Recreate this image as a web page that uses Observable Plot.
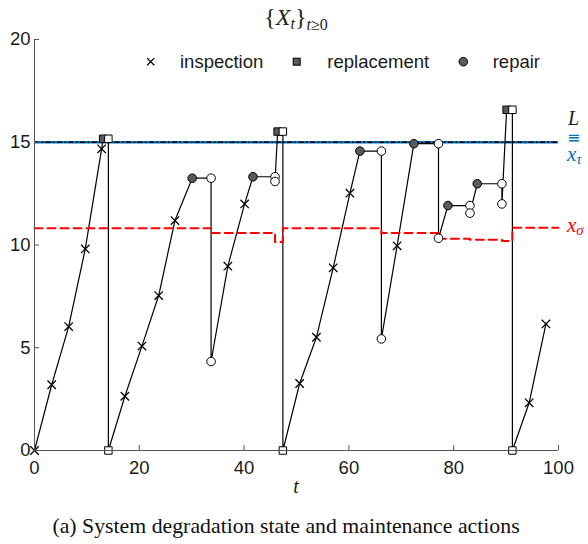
<!DOCTYPE html>
<html>
<head>
<meta charset="utf-8">
<script src="https://cdn.jsdelivr.net/npm/d3@7"></script>
<script src="https://cdn.jsdelivr.net/npm/@observablehq/plot@0.6"></script>
<style>
  body { margin: 0; background: #fff; }
  #wrap { position: relative; width: 588px; height: 544px; background: #fff; }
  #caption {
    position: absolute; left: 0; width: 572px; top: 516px;
    text-align: center; font-family: "Liberation Serif", "Times New Roman", serif;
    font-size: 21.8px; line-height: 20px; color: #111; white-space: nowrap;
  }
</style>
</head>
<body>
<div id="wrap">
  <div id="chart"></div>
  <div id="caption">(a) System degradation state and maintenance actions</div>
</div>
<script>
// Degradation trajectory: time, state, and what happened at that point
const pathT = [0, 3.28, 6.52, 9.69, 12.81, 13.1, 14.1, 14.1,
  17.25, 20.5, 23.7, 26.8, 30.1, 33.7, 33.7,
  36.9, 40.1, 41.7, 45.9, 45.9, 46.4, 47.4, 47.4,
  50.6, 53.8, 57.0, 60.2, 62.1, 66.2, 66.2,
  69.2, 72.4, 77.1, 77.1, 78.9, 83.1, 83.1, 84.5, 89.2, 89.2, 90.1, 91.2, 91.2,
  94.4, 97.6];
const pathX = [0, 3.20, 6.03, 9.81, 14.68, 15.17, 15.17, 0,
  2.64, 5.08, 7.54, 11.19, 13.25, 13.25, 4.33,
  8.97, 12.0, 13.32, 13.32, 13.09, 15.52, 15.52, 0,
  3.26, 5.51, 8.89, 12.52, 14.57, 14.57, 5.43,
  9.96, 14.93, 14.93, 10.33, 11.92, 11.92, 11.55, 12.98, 12.98, 12.0, 16.58, 16.58, 0,
  2.32, 6.16];
const pathKind = ["inspection", "inspection", "inspection", "inspection", "inspection", "replacement", "replaced", "replaced",
  "inspection", "inspection", "inspection", "inspection", "repair", "repaired", "repaired",
  "inspection", "inspection", "repair", "repaired", "repaired", "replacement", "replaced", "replaced",
  "inspection", "inspection", "inspection", "inspection", "repair", "repaired", "repaired",
  "inspection", "repair", "repaired", "repaired", "repair", "repaired", "repaired", "repair", "repaired", "repaired", "replacement", "replaced", "replaced",
  "inspection", "inspection"];

// Repair threshold x_sigma (piecewise constant, changes after each action)
const sigmaT = [0, 33.7, 45.9, 47.4, 66.2, 77.1, 83.1, 89.2, 91.2, 100];
const sigmaX = [10.82, 10.59, 10.14, 10.82, 10.58, 10.30, 10.25, 10.19, 10.84, 10.84];

// Failure level L and replacement threshold x_tau
const failureL = 15;
const replaceTau = 15;

const xTicks = [0, 20, 40, 60, 80, 100];
const yTicks = [0, 5, 10, 15, 20];

const events = pathT.map((t, i) => ({t, x: pathX[i], kind: pathKind[i]}));
const sigma = sigmaT.map((t, i) => ({t, x: sigmaX[i]}));
const of = (k) => events.filter((d) => d.kind === k);

const gray = "#5a5a5a";
const blue = "#0072BD";
const red = "#FF0000";

const plot = Plot.plot({
  width: 588,
  height: 500,
  marginLeft: 34,
  marginRight: 30,
  marginTop: 39,
  marginBottom: 50,
  x: {domain: [0, 100]},
  y: {domain: [0, 20]},
  style: {
    fontFamily: "'Liberation Sans', Arial, sans-serif",
    fontSize: "18.5px",
    color: "#1a1a1a",
    background: "#fff",
    overflow: "visible"
  },
  marks: [
    Plot.ruleY([replaceTau], {stroke: blue, strokeWidth: 2.4}),
    Plot.ruleY([failureL], {stroke: "#000", strokeWidth: 1.6, strokeDasharray: "5,2.5,1.5,2.5"}),
    Plot.line(events, {x: "t", y: "x", stroke: "#000", strokeWidth: 1.2}),
    Plot.line(sigma, {x: "t", y: "x", curve: "step-after", stroke: red, strokeWidth: 2, strokeDasharray: "8,5"}),
    Plot.dot(of("inspection"), {x: "t", y: "x", symbol: "times", r: 3.9, stroke: "#000", strokeWidth: 1.3}),
    Plot.dot(of("replacement"), {x: "t", y: "x", symbol: "square", r: 4.2, fill: gray, stroke: "#000", strokeWidth: 1}),
    Plot.dot(of("replaced"), {x: "t", y: "x", symbol: "square", r: 4.2, fill: "#fff", stroke: "#000", strokeWidth: 1}),
    Plot.dot(of("repair"), {x: "t", y: "x", r: 4.3, fill: gray, stroke: "#000", strokeWidth: 1}),
    Plot.dot(of("repaired"), {x: "t", y: "x", r: 4.3, fill: "#fff", stroke: "#000", strokeWidth: 1}),
    Plot.ruleX([0], {stroke: "#555", strokeWidth: 1}),
    Plot.ruleY([0], {stroke: "#555", strokeWidth: 1}),
    Plot.axisX({ticks: xTicks, tickSize: -5, tickPadding: 15, label: null, stroke: "#555"}),
    Plot.axisY({ticks: yTicks, tickSize: -5, tickPadding: 9, label: null, stroke: "#555"})
  ]
});

document.getElementById("chart").append(plot);

const svg = d3.select(plot);
const sx = plot.scale("x");
const sy = plot.scale("y");
const serif = "'Liberation Serif', 'Times New Roman', serif";

// Title {X_t}_{t>=0}
const title = svg.append("text")
  .attr("x", 296).attr("y", 25)
  .attr("text-anchor", "middle")
  .style("font-family", serif).style("font-size", "24px").attr("fill", "#222");
title.append("tspan").text("{");
title.append("tspan").style("font-style", "italic").text("X");
title.append("tspan").style("font-style", "italic").style("font-size", "16px").attr("dy", 4).text("t");
title.append("tspan").attr("dy", -4).text("}");
title.append("tspan").style("font-style", "italic").style("font-size", "16px").attr("dy", 5).text("t");
title.append("tspan").style("font-size", "16px").text("≥0");

// x-axis label
svg.append("text")
  .attr("x", (sx.apply(0) + sx.apply(100)) / 2).attr("y", 493)
  .attr("text-anchor", "middle")
  .style("font-family", serif).style("font-style", "italic").style("font-size", "20px")
  .text("t");

// Labels for the horizontal levels at the right edge
const yL = sy.apply(failureL);
const labelX = 567;
svg.append("text").attr("x", labelX + 1).attr("y", yL - 17).attr("text-anchor", "start")
  .style("font-family", serif).style("font-style", "italic").style("font-size", "20px").text("L");
svg.append("text").attr("x", labelX).attr("y", yL + 1).attr("text-anchor", "start")
  .style("font-family", "'DejaVu Sans', sans-serif").style("font-size", "16px").attr("fill", blue).text("≡");
const tau = svg.append("text").attr("x", labelX).attr("y", yL + 19).attr("text-anchor", "start")
  .style("font-family", serif).style("font-style", "italic").style("font-size", "21px").attr("fill", blue);
tau.append("tspan").text("x");
tau.append("tspan").style("font-size", "15px").attr("dy", 3).text("τ");
const sg = svg.append("text").attr("x", labelX).attr("y", sy.apply(sigmaX[sigmaX.length - 1]) + 5)
  .attr("text-anchor", "start")
  .style("font-family", serif).style("font-style", "italic").style("font-size", "21px").attr("fill", red);
sg.append("tspan").text("x");
sg.append("tspan").style("font-size", "15px").attr("dy", 3).text("σ");

// Legend
const legend = svg.append("g").attr("text-anchor", "start").style("font-size", "18.5px").attr("fill", "#1a1a1a");
const ly = 61.7;
legend.append("path")
  .attr("d", `M${150.7 - 3.6},${ly - 3.6}L${150.7 + 3.6},${ly + 3.6}M${150.7 - 3.6},${ly + 3.6}L${150.7 + 3.6},${ly - 3.6}`)
  .attr("stroke", "#000").attr("stroke-width", 1.3);
legend.append("text").attr("x", 180).attr("y", ly + 6.6).text("inspection");
legend.append("rect").attr("x", 296.7 - 3.5).attr("y", ly - 3.5).attr("width", 7).attr("height", 7)
  .attr("fill", gray).attr("stroke", "#000").attr("stroke-width", 1);
legend.append("text").attr("x", 327.3).attr("y", ly + 6.6).text("replacement");
legend.append("circle").attr("cx", 463.3).attr("cy", ly).attr("r", 4.3)
  .attr("fill", gray).attr("stroke", "#000").attr("stroke-width", 1);
legend.append("text").attr("x", 492.7).attr("y", ly + 6.6).text("repair");
</script>
</body>
</html>
